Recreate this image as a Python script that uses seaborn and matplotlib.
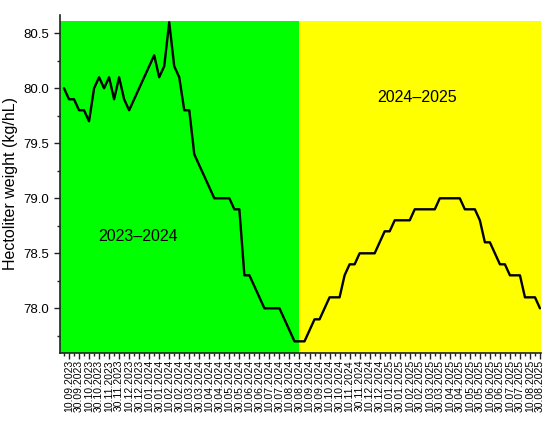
import matplotlib
matplotlib.use("Agg")
import matplotlib.pyplot as plt
import seaborn as sns
import numpy as np
import pandas as pd

# ---- data ----
hectoliter_weight = [
    80.0, 79.9, 79.9, 79.8, 79.8, 79.7, 80.0, 80.1, 80.0, 80.1,
    79.9, 80.1, 79.9, 79.8, 79.9, 80.0, 80.1, 80.2, 80.3, 80.1,
    80.2, 80.6, 80.2, 80.1, 79.8, 79.8, 79.4, 79.3, 79.2, 79.1,
    79.0, 79.0, 79.0, 79.0, 78.9, 78.9, 78.3, 78.3, 78.2, 78.1,
    78.0, 78.0, 78.0, 78.0, 77.9, 77.8, 77.7, 77.7, 77.7, 77.8,
    77.9, 77.9, 78.0, 78.1, 78.1, 78.1, 78.3, 78.4, 78.4, 78.5,
    78.5, 78.5, 78.5, 78.6, 78.7, 78.7, 78.8, 78.8, 78.8, 78.8,
    78.9, 78.9, 78.9, 78.9, 78.9, 79.0, 79.0, 79.0, 79.0, 79.0,
    78.9, 78.9, 78.9, 78.8, 78.6, 78.6, 78.5, 78.4, 78.4, 78.3,
    78.3, 78.3, 78.1, 78.1, 78.1, 78.0,
]
tick_labels = [
    "10.09.2023", "30.09.2023", "10.10.2023", "30.10.2023", "10.11.2023", "30.11.2023",
    "10.12.2023", "30.12.2023", "10.01.2024", "30.01.2024", "10.02.2024", "30.02.2024",
    "10.03.2024", "30.03.2024", "10.04.2024", "30.04.2024", "10.05.2024", "30.05.2024",
    "10.06.2024", "30.06.2024", "10.07.2024", "30.07.2024", "10.08.2024", "30.08.2024",
    "10.09.2024", "30.09.2024", "10.10.2024", "30.10.2024", "10.11.2024", "30.11.2024",
    "10.12.2024", "30.12.2024", "10.01.2025", "30.01.2025", "10.02.2025", "30.02.2025",
    "10.03.2025", "30.03.2025", "10.04.2025", "30.04.2025", "10.05.2025", "30.05.2025",
    "10.06.2025", "30.06.2025", "10.07.2025", "30.07.2025", "10.08.2025", "30.08.2025",
]
season_labels = ["2023–2024", "2024–2025"]
season_colors = ["#00FF00", "#FFFF00"]

df = pd.DataFrame({"pos": np.arange(len(hectoliter_weight)), "value": hectoliter_weight})
label_pos = np.arange(1, len(df), 2)[:len(tick_labels)]
minor_pos = np.arange(0, len(df), 2)

sns.set_style("ticks")
plt.rcParams["font.family"] = ["Liberation Sans", "DejaVu Sans"]
plt.rcParams["text.color"] = "black"
plt.rcParams["axes.labelcolor"] = "black"
plt.rcParams["xtick.labelcolor"] = "black"
plt.rcParams["ytick.labelcolor"] = "black"

fig = plt.figure(figsize=(5.5, 4.21), dpi=100)
ax = fig.add_axes([60 / 550, 1 - 353 / 421, 481 / 550, 338 / 421])

ymin, ymax = 77.594, 80.666
xmin, xmax = -0.8, 95.2
split = label_pos[23]
top_fill = max(hectoliter_weight) + 0.01

ax.fill_between([xmin, split], ymin, top_fill, color=season_colors[0], lw=0, zorder=0)
ax.fill_between([split, xmax], ymin, top_fill, color=season_colors[1], lw=0, zorder=0)

sns.lineplot(data=df, x="pos", y="value", color="black", lw=1.7, ax=ax, zorder=3)

ax.set_xlim(xmin, xmax)
ax.set_ylim(ymin, ymax)
ax.set_xticks(label_pos)
ax.set_xticklabels(tick_labels, rotation=90, fontsize=7.5)
ax.set_xticks(minor_pos, minor=True)
ax.set_yticks([78.0, 78.5, 79.0, 79.5, 80.0, 80.5])
ax.set_yticklabels(["78.0", "78.5", "79.0", "79.5", "80.0", "80.5"], fontsize=9.5)
ax.set_yticks(np.arange(77.75, 80.6, 0.5), minor=True)
ax.tick_params(axis="both", which="major", direction="out", length=4.5, width=1, color="#222222")
ax.tick_params(axis="both", which="minor", direction="out", length=2.5, width=1, color="#222222")
ax.tick_params(axis="x", which="major", pad=0.5)
ax.set_xlabel("")
ax.set_ylabel("Hectoliter weight (kg/hL)", fontsize=11.5, labelpad=4)

for s in ["top", "right"]:
    ax.spines[s].set_visible(False)
for s in ["left", "bottom"]:
    ax.spines[s].set_linewidth(1.2)
    ax.spines[s].set_color("#222222")

ax.text(14.8, 78.65, season_labels[0], fontsize=11.5, ha="center", va="center")
ax.text(70.4, 79.92, season_labels[1], fontsize=11.5, ha="center", va="center")

fig.savefig("out.png", dpi=100)
